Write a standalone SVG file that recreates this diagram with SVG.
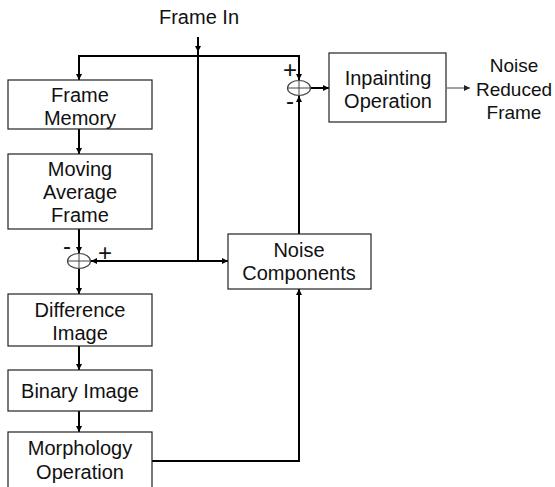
<svg xmlns="http://www.w3.org/2000/svg" width="555" height="487" viewBox="0 0 555 487">
<defs>
<marker id="ah" markerWidth="8" markerHeight="8" refX="6" refY="3" orient="auto" markerUnits="userSpaceOnUse">
<path d="M0,0 L6,3 L0,6 Z" fill="#000"/>
</marker>
<marker id="ahg" markerWidth="8" markerHeight="8" refX="6" refY="3" orient="auto" markerUnits="userSpaceOnUse">
<path d="M0,0 L6,3 L0,6 Z" fill="#222"/>
</marker>
</defs>
<style>
.box{fill:#fff;stroke:#222;stroke-width:1.2}
.t{font-family:"Liberation Sans","Noto Sans CJK KR",sans-serif;font-size:20px;fill:#111;text-anchor:middle}
.r{font-size:19px}
.s{font-family:"Liberation Sans",sans-serif;font-size:24px;fill:#111;text-anchor:middle}
.c{fill:none;stroke:#000;stroke-width:2}
.sum{fill:#fff;stroke:#444;stroke-width:1.2}
.x{stroke:#444;stroke-width:1}
</style>
<rect width="555" height="487" fill="#fff"/>
<g id="connectors">
<line class="c" x1="198" y1="37" x2="198" y2="261"/>
<line class="c" x1="198" y1="37" x2="198" y2="52" marker-end="url(#ah)"/>
<polyline class="c" points="198,56 79,56 79,80" marker-end="url(#ah)"/>
<polyline class="c" points="198,56 299,56 299,80" marker-end="url(#ah)"/>
<line class="c" x1="79" y1="129" x2="79" y2="154" marker-end="url(#ah)"/>
<line class="c" x1="79" y1="229" x2="79" y2="253" marker-end="url(#ah)"/>
<line class="c" x1="198" y1="261" x2="91" y2="261" marker-end="url(#ah)"/>
<line class="c" x1="198" y1="261" x2="228" y2="261" marker-end="url(#ah)"/>
<line class="c" x1="79" y1="268" x2="79" y2="294" marker-end="url(#ah)"/>
<line class="c" x1="79" y1="346" x2="79" y2="370" marker-end="url(#ah)"/>
<line class="c" x1="79" y1="411" x2="79" y2="432" marker-end="url(#ah)"/>
<polyline class="c" points="152,461 299,461 299,289" marker-end="url(#ah)"/>
<line class="c" x1="299" y1="234" x2="299" y2="96" marker-end="url(#ah)"/>
<line class="c" x1="310" y1="88" x2="329" y2="88" marker-end="url(#ah)"/>
<line x1="447" y1="88" x2="470" y2="88" stroke="#444" stroke-width="1" marker-end="url(#ahg)"/>
</g>
<g id="frame-in"><text class="t" x="199" y="24">Frame In</text></g>
<g id="frame-memory">
<rect class="box" x="8" y="80" width="144" height="49"/>
<text class="t" x="80" y="102">Frame</text>
<text class="t" x="80" y="125">Memory</text>
</g>
<g id="moving-average">
<rect class="box" x="8" y="154" width="144" height="75"/>
<text class="t" x="80" y="176">Moving</text>
<text class="t" x="80" y="199">Average</text>
<text class="t" x="80" y="222">Frame</text>
</g>
<g id="sum1">
<ellipse class="sum" cx="79" cy="261" rx="11.5" ry="7.5"/>
<line class="x" x1="67.5" y1="261" x2="90.5" y2="261"/>
<line class="x" x1="79" y1="253.5" x2="79" y2="268.5"/>
<text class="s" x="67" y="254">-</text>
<text class="s" x="105" y="261">+</text>
</g>
<g id="difference-image">
<rect class="box" x="8" y="294" width="144" height="52"/>
<text class="t" x="80" y="317">Difference</text>
<text class="t" x="80" y="340">Image</text>
</g>
<g id="binary-image">
<rect class="box" x="8" y="370" width="144" height="41"/>
<text class="t" x="80" y="398">Binary Image</text>
</g>
<g id="morphology">
<rect class="box" x="8" y="432" width="144" height="60"/>
<text class="t" x="80" y="455">Morphology</text>
<text class="t" x="80" y="479">Operation</text>
</g>
<g id="noise-components">
<rect class="box" x="228" y="234" width="143" height="55"/>
<text class="t" x="299" y="257">Noise</text>
<text class="t" x="299" y="280">Components</text>
</g>
<g id="sum2">
<ellipse class="sum" cx="299" cy="88" rx="11.5" ry="7.5"/>
<line class="x" x1="287.5" y1="88" x2="310.5" y2="88"/>
<line class="x" x1="299" y1="80.5" x2="299" y2="95.5"/>
<text class="s" x="290" y="78">+</text>
<text class="s" x="290" y="109">-</text>
</g>
<g id="inpainting">
<rect class="box" x="329" y="53" width="117" height="69"/>
<text class="t" x="388" y="85">Inpainting</text>
<text class="t" x="388" y="108">Operation</text>
</g>
<g id="noise-reduced">
<text class="t r" x="514" y="72">Noise</text>
<text class="t r" x="514" y="96">Reduced</text>
<text class="t r" x="514" y="119">Frame</text>
</g>
</svg>
